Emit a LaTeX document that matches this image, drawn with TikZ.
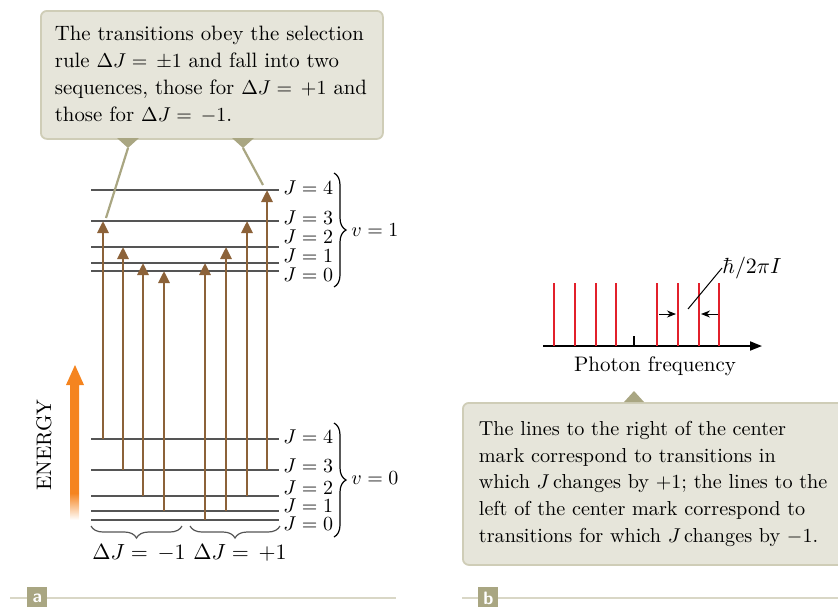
\documentclass[tikz,border=0pt]{standalone}
\usepackage{tikz}
\usetikzlibrary{arrows.meta,positioning,calc,decorations.pathreplacing}
\usepackage{amsmath}
\definecolor{levelGray}{HTML}{555555}
\definecolor{transBrown}{HTML}{8C6239}
\definecolor{energyOrange}{HTML}{F5841F}
\definecolor{noteFill}{HTML}{E6E5DA}
\definecolor{noteEdge}{HTML}{CFCDB7}
\definecolor{khaki}{HTML}{A9A682}
\definecolor{panelLine}{HTML}{D9D7C6}
\definecolor{lineRed}{HTML}{E2202B}

\begin{document}
\begin{tikzpicture}[
    x=0.5pt, y=-0.5pt,
    level/.style={draw=levelGray, line width=0.8pt},
    trans/.style={draw=transBrown, line width=1.4pt, -{Triangle[length=6pt, width=5.5pt]}},
    jlab/.style={anchor=west, inner sep=0pt, font=\fontsize{10}{10}\selectfont},
    vlab/.style={anchor=west, inner sep=0pt, font=\fontsize{10}{10}\selectfont},
    note/.style={draw=noteEdge, fill=noteFill, line width=0.9pt, rounded corners=3pt, anchor=north west,
                 align=left, inner xsep=7pt, inner ysep=0pt, font=\fontsize{10.4}{13.5}\selectfont},
    pointer/.style={draw=khaki, line width=1.1pt},
    freqline/.style={draw=lineRed, line width=1.3pt},
    dim/.style={draw=black, line width=0.5pt, -{Stealth[length=4.5pt, width=3.5pt]}},
    panel/.style={fill=khaki, text=white, inner sep=0pt, minimum width=10pt, minimum height=11pt, anchor=north west,
                  font=\sffamily\bfseries\fontsize{9}{9}\selectfont},
    lbrace/.style={decorate, decoration={brace, amplitude=6pt}, line width=0.6pt}
  ]
    \useasboundingbox (0,0) rectangle (838,606);
    \clip (0,0) rectangle (838,606);

    % Levels (v = 1 and v = 0)
    \coordinate (u0) at (91,271); \coordinate (u1) at (91,263); \coordinate (u2) at (91,247);
    \coordinate (u3) at (91,221); \coordinate (u4) at (91,190);
    \coordinate (d0) at (91,520); \coordinate (d1) at (91,511); \coordinate (d2) at (91,496);
    \coordinate (d3) at (91,470); \coordinate (d4) at (91,439);
    \draw[level] (u0) -- ++(188,0);
    \draw[level] (u1) -- ++(188,0);
    \draw[level] (u2) -- ++(188,0);
    \draw[level] (u3) -- ++(188,0);
    \draw[level] (u4) -- ++(188,0);
    \draw[level] (d0) -- ++(188,0);
    \draw[level] (d1) -- ++(188,0);
    \draw[level] (d2) -- ++(188,0);
    \draw[level] (d3) -- ++(188,0);
    \draw[level] (d4) -- ++(188,0);

    \node[jlab] (uj4) at (283,188) {$J = 4$};
    \node[jlab] (uj3) at (283,218) {$J = 3$};
    \node[jlab] (uj2) at (283,237) {$J = 2$};
    \node[jlab] (uj1) at (283,256) {$J = 1$};
    \node[jlab] (uj0) at (283,275) {$J = 0$};
    \node[jlab] (dj4) at (283,437) {$J = 4$};
    \node[jlab] (dj3) at (283,466) {$J = 3$};
    \node[jlab] (dj2) at (283,488) {$J = 2$};
    \node[jlab] (dj1) at (283,506) {$J = 1$};
    \node[jlab] (dj0) at (283,524) {$J = 0$};

    % Braces
    \coordinate (ubt) at (334,173); \coordinate (ubb) at (334,287);
    \coordinate (dbt) at (334,423); \coordinate (dbb) at (334,537);
    \draw[lbrace] (ubt) -- (ubb);
    \draw[lbrace] (dbt) -- (dbb);
    \node[vlab] (v1) at (351,230) {$v = 1$};
    \node[vlab] (v0) at (351,478) {$v = 0$};

    \draw[lbrace, draw=levelGray] (182,526) -- (91,526);
    \draw[lbrace, draw=levelGray] (280,526) -- (190,526);
    \node[font=\fontsize{10.5}{10.5}\selectfont] (dminus) at (139,553) {$\Delta J = \,-1$};
    \node[font=\fontsize{10.5}{10.5}\selectfont] (dplus) at (240,553) {$\Delta J = \,+1$};

    % Transitions
    \draw[trans] ($(d4)+(12,0)$) -- ($(u3)+(12,0)$);
    \draw[trans] ($(d3)+(32,0)$) -- ($(u2)+(32,0)$);
    \draw[trans] ($(d2)+(52,0)$) -- ($(u1)+(52,0)$);
    \draw[trans] ($(d1)+(73,0)$) -- ($(u0)+(73,0)$);
    \draw[trans] ($(d0)+(114,0)$) -- ($(u1)+(114,0)$);
    \draw[trans] ($(d1)+(135,0)$) -- ($(u2)+(135,0)$);
    \draw[trans] ($(d2)+(156,0)$) -- ($(u3)+(156,0)$);
    \draw[trans] ($(d3)+(176,0)$) -- ($(u4)+(176,0)$);

    % Energy axis
    \fill[energyOrange] (70,493) -- (70,385) -- (66,385) -- (75,365) -- (84,385) -- (79,385) -- (79,493) -- cycle;
    \shade[top color=energyOrange, bottom color=white] (70,493) rectangle (79,520);
    \node[rotate=90, font=\fontsize{10.5}{10.5}\selectfont] (energy) at (44,445) {ENERGY};

    % Callout a
    \node[note, text width=157pt, minimum height=64pt] (notea) at (40,10)
      {The transitions obey the selection\\
       rule $\Delta J = \,\pm 1$ and fall into two\\
       sequences, those for $\Delta J = \,+1$ and\\
       those for $\Delta J = \,-1$.};
    \coordinate (pa) at (128,148);
    \coordinate (pb) at (243,148);
    \fill[khaki] (117,138) -- (pa) -- (139,138) -- cycle;
    \fill[khaki] (232,138) -- (pb) -- (254,138) -- cycle;
    \draw[pointer] (pa) -- ($(u3)+(15,-3)$);
    \draw[pointer] (pb) -- ($(u4)+(172,-5)$);

    % Spectrum (b)
    \coordinate (ax0) at (543,346);
    \coordinate (ax1) at (762,346);
    \draw[line width=0.9pt, -{Triangle[length=6pt, width=4.5pt]}] (ax0) -- (ax1);
    \draw[line width=0.6pt] (634,346) -- (634,336);
    \draw[freqline] (554,283) -- (554,346);
    \draw[freqline] (575,283) -- (575,346);
    \draw[freqline] (596,283) -- (596,346);
    \draw[freqline] (616,283) -- (616,346);
    \draw[freqline] (657,283) -- (657,346);
    \draw[freqline] (678,283) -- (678,346);
    \draw[freqline] (699,283) -- (699,346);
    \draw[freqline] (719,283) -- (719,346);
    \coordinate (dl) at (659,314); \coordinate (dr) at (676,314);
    \coordinate (el) at (718,314); \coordinate (er) at (701,314);
    \draw[dim] (dl) -- (dr);
    \draw[dim] (el) -- (er);
    \node[anchor=west, inner sep=0pt, font=\fontsize{10.5}{10.5}\selectfont] (hbar) at (722,268) {$\hbar/2\pi I$};
    \draw[line width=0.5pt] (688,309) -- (hbar.west);
    \node[font=\fontsize{10.5}{10.5}\selectfont] (freq) at (655,366) {Photon frequency};

    % Callout b
    \node[note, inner xsep=8pt, text width=190pt, minimum height=81pt, font=\fontsize{10.1}{13.3}\selectfont] (noteb) at (462,402)
      {The lines to the right of the center\\
       mark correspond to transitions in\\
       which $J$\,changes by $+1$; the lines to the\\
       left of the center mark correspond to\\
       transitions for which $J$\,changes by $-1$.};
    \fill[khaki] (624,402) -- (634,391) -- (644,402) -- cycle;

    % Panel tags
    \draw[panelLine, line width=1pt] (10,598) -- (396,598);
    \draw[panelLine, line width=1pt] (462,598) -- (838,598);
    \node[panel] (taga) at (27,587) {a};
    \node[panel] (tagb) at (478,587) {b};
  \end{tikzpicture}
\end{document}
